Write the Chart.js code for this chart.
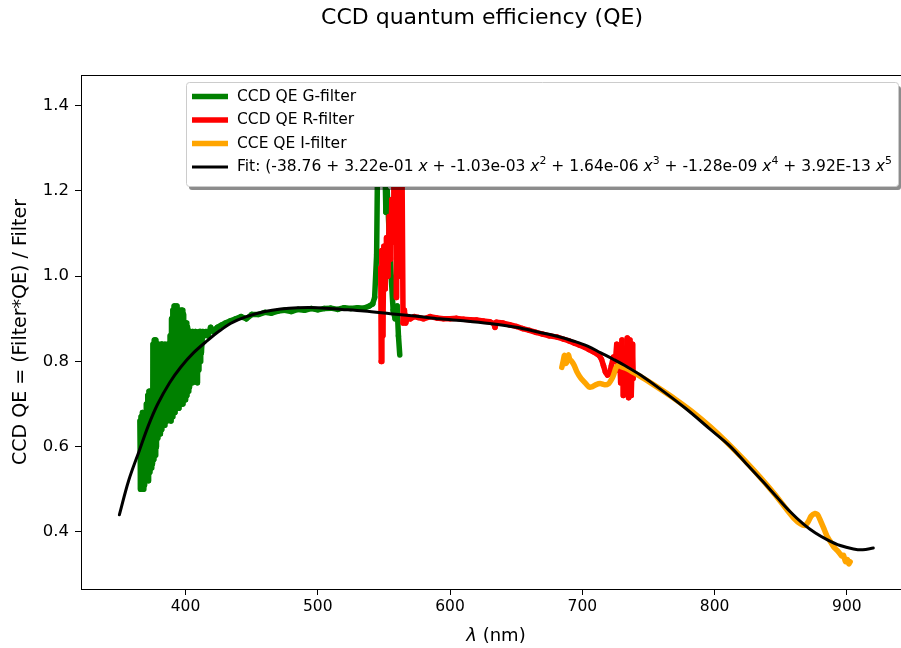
<!DOCTYPE html>
<html>
<head>
<meta charset="utf-8">
<title>CCD quantum efficiency (QE)</title>
<script src="https://cdn.jsdelivr.net/npm/chart.js@4.4.1/dist/chart.umd.min.js"></script>
<style>
  html, body { margin: 0; padding: 0; overflow: hidden; background: #fff; }
  #wrap { width: 960px; height: 648px; }
</style>
</head>
<body>
<div id="wrap"><canvas id="qeChart" width="960" height="648"></canvas></div>
<script>
// --- data ---
const xTicks = [400, 500, 600, 700, 800, 900];
const yTicks = [0.4, 0.6, 0.8, 1.0, 1.2, 1.4];

// G-filter (noisy in the blue, spike near 550 nm)
const gWave = [365.5,366.0,366.5,367.0,367.5,368.0,368.5,369.0,369.5,370.0,370.5,371.0,371.5,372.0,372.5,373.0,
  373.5,374.0,374.5,375.0,375.5,376.0,376.5,377.0,377.5,378.0,378.5,379.0,379.5,380.0,380.5,381.0,
  381.5,382.0,382.5,383.0,383.5,384.0,384.5,385.0,385.5,386.0,386.5,387.0,387.5,388.0,388.5,389.0,
  389.5,390.0,390.5,391.0,391.5,392.0,392.5,393.0,393.5,394.0,394.5,395.0,395.5,396.0,396.5,397.0,
  397.5,398.0,398.5,399.0,399.5,400.0,400.5,401.0,401.5,402.0,402.5,403.0,403.5,404.0,404.5,405.0,
  405.5,406.0,406.5,407.0,407.5,408.0,408.5,409.0,409.5,410.0,410.5,411.0,411.5,412.0,
  413,414,415.5,417,419,421,424,427,430,434,438,442,446,450,455,460,
  465,470,475,480,485,490,495,500,505,510,515,520,525,530,535,539,541.5,543,544.5,545.5,547,548.5,550,551.5,
  552.5,554,555.5,557,558.5,560,561,562];
const gQE = [0.66,0.50,0.67,0.51,0.68,0.50,0.67,0.51,0.68,0.52,
  0.70,0.53,0.72,0.52,0.73,0.54,0.72,0.55,0.73,0.56,
  0.84,0.57,0.85,0.58,0.85,0.60,0.84,0.62,0.84,0.63,
  0.83,0.63,0.84,0.64,0.84,0.65,0.83,0.65,0.84,0.66,
  0.83,0.66,0.84,0.67,0.84,0.67,0.86,0.66,0.90,0.67,
  0.92,0.68,0.93,0.68,0.92,0.69,0.93,0.69,0.92,0.69,
  0.91,0.70,0.92,0.70,0.92,0.70,0.91,0.71,0.89,0.71,
  0.89,0.72,0.88,0.73,0.87,0.74,0.87,0.75,0.86,0.75,
  0.87,0.76,0.86,0.77,0.87,0.76,0.86,0.75,0.86,0.78,
  0.87,0.80,0.87,0.82,
  0.87,0.86,0.87,0.86,0.88,0.87,0.88,0.885,0.89,0.895,0.90,0.905,0.90,0.91,0.91,0.915,
  0.913,0.918,0.92,0.917,0.922,0.92,0.924,0.921,0.924,0.925,0.922,0.926,0.924,0.926,0.925,0.93,0.935,0.95,1.05,1.35,1.40,1.30,1.38,1.15,
  1.20,1.10,1.00,0.92,0.90,0.93,0.86,0.815];

// R-filter
const rWave = [547.6,548.0,548.5,549.2,550.0,551.0,552.0,553.0,554,555,556,557,
  557.5,558.5,559.5,560.5,561.5,562.5,563.5,564.5,565.5,566.5,568,570,573,576,580,585,
  590,595,600,605,610,615,620,625,630,633,634,635,640,645,650,655,
  660,665,670,675,681,686,690,694,698,702,705,708,711,713,714.5,716,
  717.5,719,720.5,722,723.5,725,726,727,728,729,730,731,732,733,734,735,736,737,738,738.5];
const rQE = [1.02,0.80,1.06,0.86,1.07,0.97,1.09,1.00,1.14,1.04,1.18,1.08,
  1.30,1.417,0.95,1.25,1.40,1.00,1.35,0.89,0.92,0.89,0.905,0.90,0.905,0.903,0.90,0.905,
  0.902,0.90,0.90,0.901,0.899,0.898,0.897,0.895,0.893,0.889,0.88,0.892,0.89,0.886,0.882,0.877,
  0.873,0.868,0.864,0.86,0.857,0.852,0.848,0.843,0.838,0.833,0.828,0.823,0.818,0.813,0.805,0.79,
  0.775,0.768,0.77,0.79,0.81,0.80,0.84,0.78,0.83,0.75,0.85,0.72,0.83,0.73,0.855,0.715,0.85,0.72,0.84,0.76];

// I-filter
const iWave = [684.5,685.5,686.5,687.5,688.5,689.5,690.5,692,694,696,699,702,705,707,710,713.5,
  717,720,722,723.5,725.5,727.3,730,733.7,740,748,759,770,784,797,809,822,
  834.5,845,854.7,860,864.8,868.5,871,873,876,878,880,883,885,888,890,892.5,
  894.5,896.3,897.5,899,900.5,901.5,902.5];
const iQE = [0.786,0.80,0.814,0.795,0.80,0.815,0.805,0.80,0.79,0.775,0.76,0.75,0.74,0.74,0.745,0.748,
  0.745,0.748,0.757,0.767,0.785,0.791,0.787,0.783,0.772,0.757,0.735,0.712,0.68,0.646,0.611,0.57,
  0.528,0.49,0.452,0.432,0.419,0.415,0.425,0.437,0.443,0.44,0.427,0.405,0.39,0.375,0.365,0.357,
  0.35,0.343,0.345,0.33,0.335,0.325,0.33];

// 5th order fit
const fitWave = [350,357,365,372,379,388,396.5,406,417,425,434,446,460,472,485,500,
  518,535,555,575,592,612,630,650,668,681,693,704,714,724,734,744,
  759,778,797,811,824,836,847,857,867,876,885,895,905,912,920];
const fitQE = [0.44,0.52,0.59,0.65,0.70,0.75,0.787,0.82,0.85,0.87,0.889,0.905,0.917,0.923,0.926,0.926,
  0.922,0.918,0.912,0.906,0.900,0.895,0.889,0.88,0.868,0.859,0.848,0.836,0.82,0.804,0.787,0.768,
  0.735,0.69,0.64,0.603,0.56,0.52,0.482,0.448,0.419,0.398,0.382,0.368,0.36,0.358,0.362];

const FONT = "'DejaVu Sans', 'Noto Sans', sans-serif";
const LEG = 15.5;

const toPoints = (xs, ys) => xs.map((x, i) => ({ x: x, y: ys[i] }));

// --- title, labels, frame and legend drawn on the canvas ---
const fitLabel = [
  { t: 'Fit: (-38.76 + 3.22e-01 ' }, { t: 'x', it: true },
  { t: ' + -1.03e-03 ' }, { t: 'x', it: true }, { t: '2', sup: true },
  { t: ' + 1.64e-06 ' }, { t: 'x', it: true }, { t: '3', sup: true },
  { t: ' + -1.28e-09 ' }, { t: 'x', it: true }, { t: '4', sup: true },
  { t: ' + 3.92E-13 ' }, { t: 'x', it: true }, { t: '5', sup: true }
];

function drawRich(ctx, parts, x, y, size) {
  ctx.textAlign = 'left';
  ctx.textBaseline = 'middle';
  parts.forEach(p => {
    const s = p.sup ? size * 0.7 : size;
    ctx.font = (p.it ? 'italic ' : '') + s + 'px ' + FONT;
    const dy = p.sup ? -size * 0.38 : 0;
    ctx.fillText(p.t, x, y + dy);
    x += ctx.measureText(p.t).width;
  });
}

const decor = {
  id: 'decor',
  afterDatasetsDraw(chart) {
    const { ctx, chartArea: a } = chart;
    ctx.save();
    // axes box
    ctx.strokeStyle = '#000';
    ctx.lineWidth = 1;
    ctx.strokeRect(a.left + 0.5, a.top + 0.5, a.right - a.left - 1, a.bottom - a.top);

    // legend (opaque, with shadow)
    const lx = 186, ly = 82, lw = 712, lh = 104;
    ctx.fillStyle = 'rgba(0,0,0,0.45)';
    ctx.beginPath();
    ctx.roundRect(lx + 3, ly + 4, lw, lh, 3);
    ctx.fill();
    ctx.fillStyle = '#fff';
    ctx.strokeStyle = '#cccccc';
    ctx.beginPath();
    ctx.roundRect(lx + 0.5, ly + 0.5, lw, lh, 3);
    ctx.fill();
    ctx.stroke();

    const rows = [96.5, 120, 143.5, 167];
    chart.data.datasets.forEach((ds, i) => {
      ctx.strokeStyle = ds.borderColor;
      ctx.lineWidth = ds.borderWidth;
      ctx.lineCap = 'butt';
      ctx.beginPath();
      ctx.moveTo(192, rows[i]);
      ctx.lineTo(228, rows[i]);
      ctx.stroke();
      ctx.fillStyle = '#000';
      drawRich(ctx, i < 3 ? [{ t: ds.label }] : fitLabel, 237, rows[i], LEG);
    });
    ctx.restore();
  },
  afterDraw(chart) {
    const { ctx, chartArea: a } = chart;
    ctx.save();
    ctx.fillStyle = '#000';
    ctx.textAlign = 'center';
    ctx.textBaseline = 'middle';
    ctx.font = '22px ' + FONT;
    ctx.fillText('CCD quantum efficiency (QE)', 482, 18);

    // x label with italic lambda
    const XL = 18;
    ctx.font = 'italic ' + XL + 'px ' + FONT;
    const lam = 'λ';
    const w1 = ctx.measureText(lam).width;
    ctx.font = XL + 'px ' + FONT;
    const rest = ' (nm)';
    const w2 = ctx.measureText(rest).width;
    const cx = (a.left + a.right) / 2;
    drawRich(ctx, [{ t: lam, it: true }, { t: rest }], cx - (w1 + w2) / 2, 636, XL);

    // y label
    ctx.translate(21, (a.top + a.bottom) / 2);
    ctx.rotate(-Math.PI / 2);
    ctx.textAlign = 'center';
    ctx.textBaseline = 'middle';
    ctx.font = '19px ' + FONT;
    ctx.fillText('CCD QE = (Filter*QE) / Filter', 0, 0);
    ctx.restore();
  }
};

const lineSet = (label, xs, ys, color, width, tension, order) => ({
  label: label,
  data: toPoints(xs, ys),
  borderColor: color,
  backgroundColor: color,
  borderWidth: width,
  pointRadius: 0,
  fill: false,
  tension: tension,
  order: order,
  borderJoinStyle: 'round',
  borderCapStyle: 'round'
});

// the dense noisy series get stroked segment by segment (two spellings of
// the same colour force chart.js to split), otherwise the zigzag shows seams
const splitStroke = (ds, alt) => Object.assign(ds, {
  segment: { borderColor: (c) => (c.p0DataIndex % 2 ? ds.borderColor : alt) }
});

new Chart(document.getElementById('qeChart'), {
  type: 'line',
  data: {
    datasets: [
      splitStroke(lineSet('CCD QE G-filter', gWave, gQE, '#008000', 5.5, 0, 4), 'rgb(0,128,0)'),
      splitStroke(lineSet('CCD QE R-filter', rWave, rQE, '#ff0000', 5.5, 0, 3), 'rgb(255,0,0)'),
      lineSet('CCE QE I-filter', iWave, iQE, '#ffa500', 5.5, 0.2, 2),
      lineSet('Fit', fitWave, fitQE, '#000000', 3, 0.35, 1)
    ]
  },
  options: {
    responsive: false,
    animation: false,
    devicePixelRatio: 1,
    layout: { padding: { top: 75, right: 49, left: 0, bottom: 0 } },
    plugins: { legend: { display: false }, tooltip: { enabled: false }, title: { display: false } },
    scales: {
      x: {
        type: 'linear', min: 321, max: 948.5,
        afterFit: (s) => { s.height = 59; },
        afterBuildTicks: (s) => { s.ticks = xTicks.map(v => ({ value: v })); },
        grid: { drawOnChartArea: false, drawTicks: true, tickLength: 6, color: '#000' },
        border: { display: false },
        ticks: { color: '#000', font: { family: FONT, size: 15.5 }, padding: 3, maxRotation: 0, autoSkip: false,
          callback: (v) => String(v) }
      },
      y: {
        type: 'linear', min: 0.266, max: 1.472,
        afterFit: (s) => { s.width = 81; },
        afterBuildTicks: (s) => { s.ticks = yTicks.map(v => ({ value: v })); },
        grid: { drawOnChartArea: false, drawTicks: true, tickLength: 6, color: '#000' },
        border: { display: false },
        ticks: { color: '#000', font: { family: FONT, size: 16.5 }, padding: 6, autoSkip: false,
          callback: (v) => Number(v).toFixed(1) }
      }
    }
  },
  plugins: [decor]
});
</script>
</body>
</html>
